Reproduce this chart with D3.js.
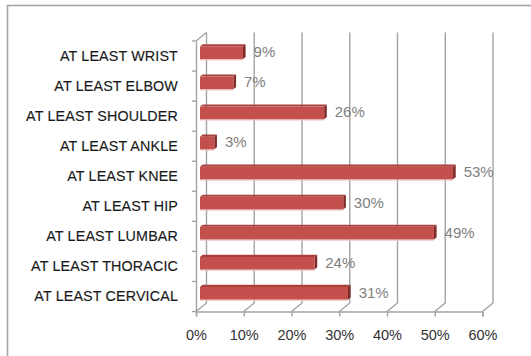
<!DOCTYPE html>
<html>
<head>
<meta charset="utf-8">
<script src="https://cdn.jsdelivr.net/npm/d3@7"></script>
<style>
  html, body { margin: 0; padding: 0; background: #fff; }
  svg { display: block; }
</style>
</head>
<body>
<svg id="chart" width="531" height="356"></svg>
<script>
// Share of cases involving at least the given joint / spine region
const categories = [
  "AT LEAST WRIST", "AT LEAST ELBOW", "AT LEAST SHOULDER", "AT LEAST ANKLE",
  "AT LEAST KNEE", "AT LEAST HIP", "AT LEAST LUMBAR", "AT LEAST THORACIC",
  "AT LEAST CERVICAL"
];
const values = [9, 7, 26, 3, 53, 30, 49, 24, 31];
const tickValues = [0, 10, 20, 30, 40, 50, 60];
const tickLabels = ["0%", "10%", "20%", "30%", "40%", "50%", "60%"];

const svg = d3.select("#chart");
const W = 531, H = 356;

// frame around the chart area
svg.append("rect")
  .attr("x", 7.5).attr("y", 5.5)
  .attr("width", W + 10).attr("height", H + 10)
  .attr("fill", "#fff").attr("stroke", "#a6a6a6").attr("stroke-width", 1.6);

// front plot plane and 3-D depth vector
const front = { left: 196, right: 482.5, top: 41, bottom: 311.5 };
const depth = { dx: 10.5, dy: -8.5 };

const x = d3.scaleLinear().domain([0, 60]).range([front.left, front.right]);
const y = d3.scaleBand().domain(categories).range([front.top, front.bottom]).paddingInner(0).paddingOuter(0);

const gridColor = "#a3a3a3";
const grid = svg.append("g").attr("stroke", gridColor).attr("stroke-width", 1.4).attr("fill", "none");

// back wall gridlines and floor diagonals
tickValues.forEach(v => {
  const fx = x(v);
  grid.append("line")
    .attr("x1", fx + depth.dx).attr("x2", fx + depth.dx)
    .attr("y1", front.top + depth.dy).attr("y2", front.bottom + depth.dy);
  grid.append("line")
    .attr("x1", fx).attr("y1", front.bottom)
    .attr("x2", fx + depth.dx).attr("y2", front.bottom + depth.dy);
});
// left wall: top edge
grid.append("line")
  .attr("x1", front.left).attr("y1", front.top)
  .attr("x2", front.left + depth.dx).attr("y2", front.top + depth.dy);

// front value axis (bottom)
const xAxis = d3.axisBottom(x).tickValues(tickValues).tickSize(5).tickPadding(13.5)
  .tickFormat((d, i) => tickLabels[i]);
const gx = svg.append("g").attr("transform", `translate(0,${front.bottom})`).call(xAxis);
gx.select(".domain").attr("stroke", gridColor).attr("stroke-width", 1.4);
gx.selectAll(".tick line").attr("stroke", gridColor).attr("stroke-width", 1.4);
gx.selectAll(".tick text")
  .attr("fill", "#333").attr("font-family", "Liberation Sans, Arial, sans-serif")
  .attr("font-size", 14.5);

// front category axis (left)
const yAxis = d3.axisLeft(y).tickSize(0).tickPadding(18);
const gy = svg.append("g").attr("transform", `translate(${front.left},0)`).call(yAxis);
gy.select(".domain").attr("stroke", gridColor).attr("stroke-width", 1.4);
gy.selectAll(".tick text")
  .attr("fill", "#1a1a1a").attr("font-family", "Liberation Sans, Arial, sans-serif")
  .attr("font-size", 14.3).attr("letter-spacing", "0.15px")
  .attr("stroke", "#1a1a1a").attr("stroke-width", 0.15);
// tick marks at the band boundaries
const bounds = categories.map(c => y(c)).concat([front.bottom]);
svg.append("g").selectAll("line").data(bounds).join("line")
  .attr("x1", front.left - 4).attr("x2", front.left)
  .attr("y1", d => d).attr("y2", d => d)
  .attr("stroke", gridColor).attr("stroke-width", 1.4);

// bars: drawn at mid-depth with a shallow 3-D extrusion
const barDepthAt = 0.38;   // position of the bar front face inside the depth
const barDepth = 0.25;     // thickness of the bar in depth
const barH = 12.6;
const ox = depth.dx * barDepthAt, oy = depth.dy * barDepthAt;
const ex = depth.dx * barDepth, ey = depth.dy * barDepth;

const bars = svg.append("g");
categories.forEach((c, i) => {
  const v = values[i];
  const x0 = x(0) + ox, x1 = x(v) + ox;
  const cy = y(c) + y.bandwidth() / 2 + oy;
  const y0 = cy - barH / 2, y1 = cy + barH / 2;
  const g = bars.append("g");
  // soft shadow under the bar
  g.append("rect").attr("x", x0).attr("y", y1).attr("width", x1 - x0).attr("height", 1.3)
    .attr("fill", "#f0c4c2");
  // top face
  g.append("path")
    .attr("d", `M${x0},${y0}L${x0 + ex},${y0 + ey}L${x1 + ex},${y0 + ey}L${x1},${y0}Z`)
    .attr("fill", "#a8403d");
  // end face
  g.append("path")
    .attr("d", `M${x1},${y0}L${x1 + ex},${y0 + ey}L${x1 + ex},${y1 + ey}L${x1},${y1}Z`)
    .attr("fill", "#7e2a28");
  // front face
  g.append("rect").attr("x", x0).attr("y", y0).attr("width", x1 - x0).attr("height", barH)
    .attr("fill", "#c4504d");
  // value label
  g.append("text")
    .attr("x", x1 + ex + 8).attr("y", cy + 0.5)
    .attr("dominant-baseline", "middle")
    .attr("fill", "#808080").attr("font-family", "Liberation Sans, Arial, sans-serif")
    .attr("font-size", 15)
    .text(v + "%");
});
</script>
</body>
</html>
